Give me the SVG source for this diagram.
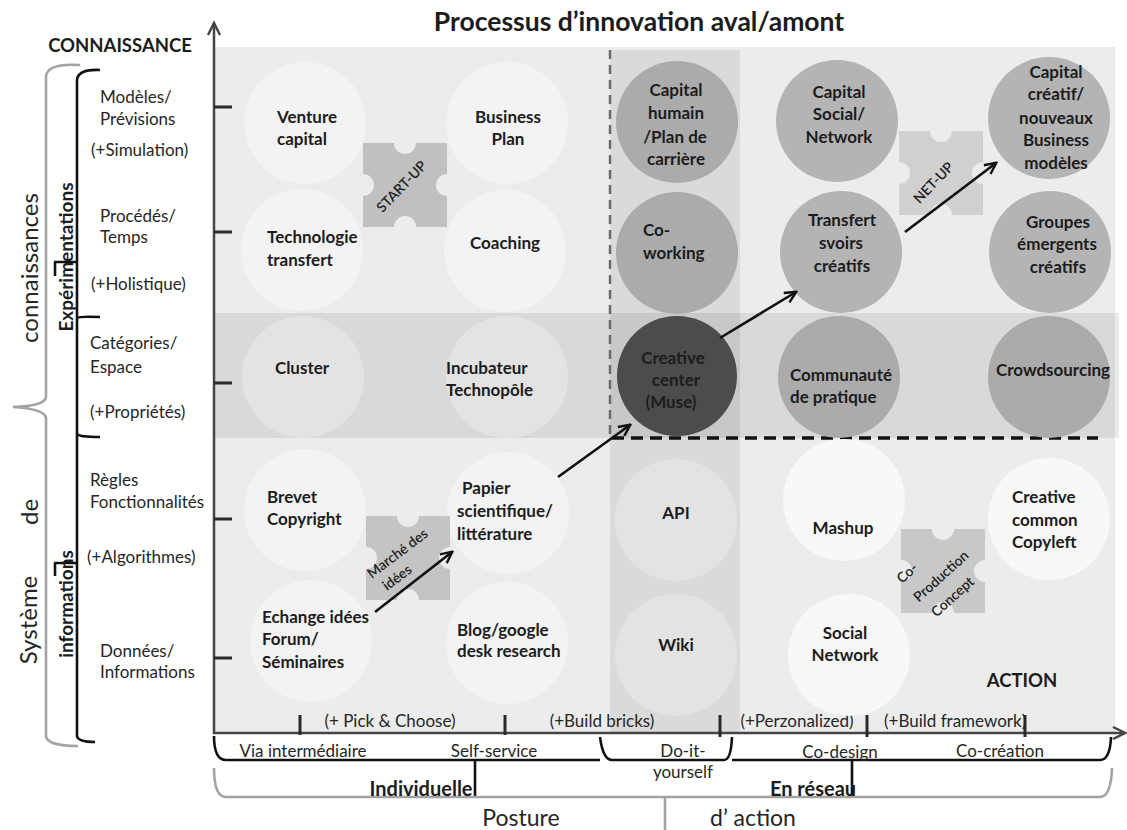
<svg xmlns="http://www.w3.org/2000/svg" width="1127" height="830" viewBox="0 0 1127 830">
<style>
text{font-family:Lato,"Liberation Sans",sans-serif;fill:#1c1c1c}
.n{font-size:17px;font-weight:700}
.l{font-size:17px;fill:#262626}
.c{text-anchor:middle}
.s{text-anchor:start}
.p{font-size:14px;font-weight:600;fill:#222}
.ax{stroke:#454545;stroke-width:2.5;fill:none}
.tk{stroke:#2a2a2a;stroke-width:3;fill:none}
.br{stroke:#111;stroke-width:2.6;fill:none}
.gb{stroke:#a3a3a3;stroke-width:2.6;fill:none}
.w{fill:#f3f3f3}
.wb{fill:#e3e3e3}
.ww{fill:#f8f8f8}
.g{fill:#b4b4b4}
.gd{fill:#ababab}
.arr{stroke:#111;stroke-width:2.6;fill:none;marker-end:url(#ah)}
</style>
<defs>
<marker id="ah" viewBox="0 0 14 14" refX="12" refY="7" markerWidth="14" markerHeight="14" markerUnits="userSpaceOnUse" orient="auto">
<path d="M1,1.5 L12.5,7 L1,12.5" fill="none" stroke="#111" stroke-width="2.4"/>
</marker>
<path id="pz" d="M-42,-42 H-11 A11,11 0 0 0 11,-42 H42 V-11 A11,11 0 0 0 42,11 V42 H11 A11,11 0 0 0 -11,42 H-42 V11 A11,11 0 0 0 -42,-11 Z"/>
</defs>
<rect width="1127" height="830" fill="#ffffff"/>
<g id="background">
<rect x="215" y="47" width="900" height="686" fill="#ececec"/>
<rect x="215" y="313" width="904" height="125" fill="#000" fill-opacity="0.08"/>
<rect x="610" y="50" width="130" height="683" fill="#000" fill-opacity="0.075"/>
</g>
<g id="title">
<text x="639" y="31" class="c" style="font-size:26.5px;font-weight:700">Processus d’innovation aval/amont</text>
<text x="120" y="52" class="c" style="font-size:18.5px;font-weight:700">CONNAISSANCE</text>
</g>
<g id="axes">
<path class="ax" d="M214,24 V733 H1122"/>
<path class="ax" d="M208,35 L214,23 L220,35"/>
<path class="ax" d="M1113,727 L1125,733 L1113,739"/>
<path class="tk" d="M214,107 H232 M214,232 H232 M214,383 H232 M214,519 H232 M214,658 H232"/>
<path class="tk" d="M300,715 V735 M505,715 V735 M720,715 V737 M867,715 V737 M1025,715 V737"/>
</g>
<g id="y-brackets">
<path class="gb" d="M80,65 Q48,63 46,76 V397 Q45,406 13,407 Q45,409 46,418 V736 Q47,746 78,746"/>
<path class="br" d="M100,70 Q78,69 77,80 V736 Q78,742 95,742"/>
<path class="br" d="M77,318 Q79,316 100,317 M77,434 Q79,437 100,437"/>
<path class="br" d="M54,262 H77 M55,262 V276 M54,563 H77 M55,563 V576"/>
<text transform="translate(38,268) rotate(-90)" class="c" style="font-size:24px;fill:#262626">connaissances</text>
<text transform="translate(38,512) rotate(-90)" class="c" style="font-size:24px;fill:#262626">de</text>
<text transform="translate(37,620) rotate(-90)" class="c" style="font-size:24px;fill:#262626">Système</text>
<text transform="translate(73,257) rotate(-90)" class="c" style="font-size:19px;font-weight:700">Expérimentations</text>
<text transform="translate(73,604) rotate(-90)" class="c" style="font-size:19px;font-weight:700">informations</text>
</g>
<g id="y-labels">
<text x="100" y="103" class="l">Modèles/</text>
<text x="100" y="125" class="l">Prévisions</text>
<text x="91" y="156" class="l">(+Simulation)</text>
<text x="100" y="222" class="l">Procédés/</text>
<text x="100" y="243" class="l">Temps</text>
<text x="91" y="290" class="l">(+Holistique)</text>
<text x="90" y="349" class="l">Catégories/</text>
<text x="90" y="373" class="l">Espace</text>
<text x="90" y="418" class="l">(+Propriétés)</text>
<text x="90" y="486" class="l">Règles</text>
<text x="90" y="508" class="l">Fonctionnalités</text>
<text x="87" y="563" class="l">(+Algorithmes)</text>
<text x="100" y="657" class="l">Données/</text>
<text x="100" y="678" class="l">Informations</text>
</g>
<g id="x-labels">
<text x="390" y="727" class="l c">(+ Pick &amp; Choose)</text>
<text x="602" y="727" class="l c">(+Build bricks)</text>
<text x="797" y="727" class="l c">(+Perzonalized)</text>
<text x="884" y="727" class="l s">(+Build framework)</text>
<path class="br" d="M214,736 Q214,760 226,760 H600"/>
<path class="br" d="M600,737 Q603,760 612,760 H724 Q731,760 732,737"/>
<path class="br" d="M732,760 H1100 Q1110,760 1111,737"/>
<path class="br" d="M475,760 V797 M852,760 V797"/>
<path class="gb" d="M214,768 Q214,797 226,797 H1100 Q1111,797 1112,768"/>
<path class="gb" d="M665,797 V830"/>
<text x="303" y="757" class="l c">Via intermédiaire</text>
<text x="494" y="757" class="l c">Self-service</text>
<text x="683" y="757" class="l c">Do-it-</text>
<text x="683" y="778" class="l c">yourself</text>
<text x="840" y="758" class="l c">Co-design</text>
<text x="1000" y="757" class="l c">Co-création</text>
<text x="421" y="796" class="c" style="font-size:20px;font-weight:700">Individuelle</text>
<text x="813" y="796" class="c" style="font-size:20px;font-weight:700">En réseau</text>
<text x="521" y="826" class="c" style="font-size:23px;fill:#262626">Posture</text>
<text x="753" y="826" class="c" style="font-size:23px;fill:#262626">d’ action</text>
<text x="1022" y="687" class="c" style="font-size:18.5px;font-weight:700">ACTION</text>
</g>
<g id="dashed">
<path d="M610,50 V438" stroke="#6a6a6a" stroke-width="2.5" stroke-dasharray="9 6" fill="none"/>
<path d="M612,438 H1098" stroke="#111" stroke-width="3.5" stroke-dasharray="12 7" fill="none"/>
</g>
<g id="venture-capital"><circle cx="305" cy="123" r="61" class="w"/><text x="277" y="123" class="n s">Venture</text><text x="277" y="145" class="n s">capital</text></g>
<g id="business-plan"><circle cx="507" cy="123" r="61" class="w"/><text x="508" y="123" class="n c">Business</text><text x="508" y="145" class="n c">Plan</text></g>
<g id="technologie-transfert"><circle cx="302" cy="250" r="61" class="w"/><text x="267" y="243" class="n s">Technologie</text><text x="267" y="266" class="n s">transfert</text></g>
<g id="coaching"><circle cx="505" cy="251" r="61" class="w"/><text x="505" y="249" class="n c">Coaching</text></g>
<g id="cluster"><circle cx="303" cy="377" r="61" class="wb"/><text x="302" y="374" class="n c">Cluster</text></g>
<g id="incubateur"><circle cx="507" cy="377" r="61" class="wb"/><text x="446" y="374" class="n s">Incubateur</text><text x="446" y="396" class="n s">Technopôle</text></g>
<g id="brevet"><circle cx="305" cy="510" r="61" class="w"/><text x="267" y="503" class="n s">Brevet</text><text x="267" y="525" class="n s">Copyright</text></g>
<g id="papier"><circle cx="508" cy="513" r="61" class="w"/><text x="462" y="494" class="n s">Papier</text><text x="457" y="517" class="n s">scientifique/</text><text x="457" y="540" class="n s">littérature</text></g>
<g id="echange"><circle cx="311" cy="641" r="61" class="w"/><text x="262" y="623" class="n s">Echange idées</text><text x="262" y="645" class="n s">Forum/</text><text x="262" y="668" class="n s">Séminaires</text></g>
<g id="blog"><circle cx="507" cy="643" r="61" class="w"/><text x="457" y="636" class="n s">Blog/google</text><text x="457" y="657" class="n s">desk research</text></g>
<g id="capital-humain"><circle cx="677" cy="122" r="61" class="gd"/><text x="676" y="96" class="n c">Capital</text><text x="676" y="119" class="n c">humain</text><text x="675" y="143" class="n c">/Plan de</text><text x="676" y="165" class="n c">carrière</text></g>
<g id="co-working"><circle cx="677" cy="253" r="61" class="gd"/><text x="643" y="236" class="n s">Co-</text><text x="643" y="259" class="n s">working</text></g>
<g id="creative-center"><circle cx="677" cy="376" r="60" fill="#4c4c4c"/><text x="673" y="364" class="n c">Creative</text><text x="676" y="386" class="n c">center</text><text x="671" y="408" class="n c">(Muse)</text></g>
<g id="api"><circle cx="676" cy="520" r="61" class="wb"/><text x="676" y="519" class="n c">API</text></g>
<g id="wiki"><circle cx="676" cy="655" r="61" class="wb"/><text x="676" y="651" class="n c">Wiki</text></g>
<g id="capital-social"><circle cx="837" cy="121" r="61" class="g"/><text x="839" y="98" class="n c">Capital</text><text x="839" y="120" class="n c">Social/</text><text x="839" y="143" class="n c">Network</text></g>
<g id="transfert"><circle cx="841" cy="252" r="61" class="g"/><text x="842" y="226" class="n c">Transfert</text><text x="841" y="249" class="n c">svoirs</text><text x="842" y="272" class="n c">créatifs</text></g>
<g id="communaute"><circle cx="839" cy="377" r="61" class="gd"/><text x="790" y="381" class="n s">Communauté</text><text x="790" y="403" class="n s">de pratique</text></g>
<g id="mashup"><circle cx="844" cy="500" r="61" class="ww"/><text x="843" y="534" class="n c">Mashup</text></g>
<g id="social-network"><circle cx="849" cy="655" r="61" class="ww"/><text x="845" y="639" class="n c">Social</text><text x="845" y="661" class="n c">Network</text></g>
<g id="capital-creatif"><circle cx="1049" cy="118" r="61" class="g"/><text x="1056" y="78" class="n c">Capital</text><text x="1056" y="100" class="n c">créatif/</text><text x="1056" y="124" class="n c">nouveaux</text><text x="1056" y="146" class="n c">Business</text><text x="1056" y="169" class="n c">modèles</text></g>
<g id="groupes"><circle cx="1050" cy="252" r="61" class="g"/><text x="1058" y="228" class="n c">Groupes</text><text x="1057" y="250" class="n c">émergents</text><text x="1058" y="273" class="n c">créatifs</text></g>
<g id="crowdsourcing"><circle cx="1049" cy="377" r="61" class="gd"/><text x="1053" y="376" class="n c">Crowdsourcing</text></g>
<g id="creative-common"><circle cx="1049" cy="519" r="61" class="ww"/><text x="1012" y="503" class="n s">Creative</text><text x="1012" y="526" class="n s">common</text><text x="1012" y="548" class="n s">Copyleft</text></g>
<g id="start-up"><use href="#pz" transform="translate(405,185)" fill="#b9b9b9" fill-opacity="0.85"/><text transform="translate(405,190) rotate(-46)" class="c p">START-UP</text></g>
<g id="net-up"><use href="#pz" transform="translate(941,173)" fill="#cbcbcb" fill-opacity="0.85"/><text transform="translate(937,186) rotate(-46)" class="c p">NET-UP</text></g>
<g id="marche-des-idees"><use href="#pz" transform="translate(408,558)" fill="#bdbdbd" fill-opacity="0.85"/><text transform="translate(405,560) rotate(-37)" class="p"><tspan x="-38" y="-5">Marché des</tspan><tspan x="-33" y="14">idées</tspan></text></g>
<g id="co-production"><use href="#pz" transform="translate(943,571)" fill="#c2c2c2" fill-opacity="0.85"/><text transform="translate(945,575) rotate(-42)" class="p"><tspan x="-38" y="-22">Co-</tspan><tspan x="-38" y="3">Production</tspan><tspan x="-35" y="26">Concept</tspan></text></g>
<g id="connectors">
<path class="arr" d="M375,612 L452,552"/>
<path class="arr" d="M558,477 L630,425"/>
<path class="arr" d="M720,338 L796,292"/>
<path class="arr" d="M905,232 L996,163"/>
</g>
</svg>
